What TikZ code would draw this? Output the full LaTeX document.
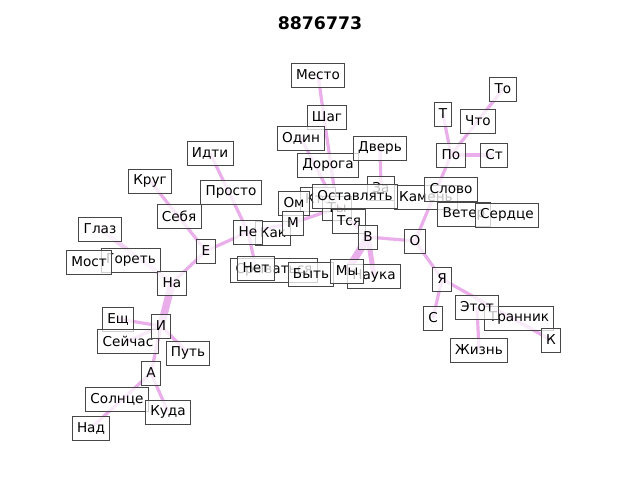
\documentclass[tikz,border=0pt]{standalone}
\usepackage{fontspec}
\setmainfont{DejaVu Sans}
\usetikzlibrary{backgrounds}

\definecolor{linkpink}{RGB}{234,174,234}
\newcommand{\wordfont}{\fontsize{10.2}{12}\selectfont}

\tikzset{
  word/.style={draw=black!72, line width=0.7pt, fill=white, fill opacity=0.75, text opacity=1,
    inner sep=3.6pt, minimum height=18pt, font=\wordfont},
  link/.style={draw=linkpink, line width=2.4pt},
  heavylink/.style={draw=linkpink, line width=5.6pt},
  faintlink/.style={draw=linkpink!55, line width=3.2pt}
}

\begin{document}
\begin{tikzpicture}[x=0.75pt,y=0.75pt,yscale=-1,xscale=1]
\useasboundingbox (0,0) rectangle (640,480);

% title
\node (title) at (320,23) {\fontsize{13}{15}\selectfont\bfseries 8876773};

% words, hidden ones first
\node[word] (kto) at (318,199) {Кто};
\node[word] (za) at (381,188) {За};
\node[word] (ty) at (337,208) {Ты};
\node[word] (tsya) at (349,221) {Тся};
\node[word] (goret) at (131,260) {Гореть};
\node[word] (sryv) at (274,270) {Срываться};
\node[word] (nauka) at (374,276) {Наука};
\node[word] (kamen) at (426,197) {Камень};
\node[word] (veter) at (464,214) {Ветер};
\node[word] (trannik) at (519,318) {Транник};
\node[word] (kak) at (273,233) {Как};

\node[word] (mesto) at (318,75) {Место};
\node[word] (shag) at (327,117) {Шаг};
\node[word] (odin) at (301,138) {Один};
\node[word] (doroga) at (328,165) {Дорога};
\node[word] (dver) at (380,148) {Дверь};
\node[word] (idti) at (210,153) {Идти};
\node[word] (krug) at (150,181) {Круг};
\node[word] (prosto) at (231,192) {Просто};
\node[word] (sebya) at (179,216) {Себя};
\node[word] (glaz) at (100,229) {Глаз};
\node[word] (most) at (89,262) {Мост};
\node[word] (e) at (206,251) {Е};
\node[word] (na) at (172,283) {На};
\node[word] (ne) at (248,232) {Не};
\node[word] (om) at (294,203) {Ом};
\node[word] (m) at (293,223) {М};
\node[word] (ostavlyat) at (355,196) {Оставлять};
\node[word] (v) at (368,237) {В};
\node[word] (slovo) at (451,189) {Слово};
\node[word] (serdtse) at (507,215) {Сердце};
\node[word] (o) at (415,241) {О};
\node[word] (po) at (451,155) {По};
\node[word] (t) at (443,114) {Т};
\node[word] (chto) at (478,121) {Что};
\node[word] (st) at (494,155) {Ст};
\node[word] (to) at (503,89) {То};
\node[word] (net) at (256,268) {Нет};
\node[word] (byt) at (311,274) {Быть};
\node[word] (my) at (347,271) {Мы};
\node[word] (ya) at (442,279) {Я};
\node[word] (s) at (433,318) {С};
\node[word] (etot) at (477,307) {Этот};
\node[word] (zhizn) at (479,350) {Жизнь};
\node[word] (k) at (551,340) {К};
\node[word] (esch) at (118,319) {Ещ};
\node[word] (sejchas) at (128,341) {Сейчас};
\node[word] (i) at (161,326) {И};
\node[word] (put) at (188,353) {Путь};
\node[word] (a) at (151,373) {А};
\node[word] (solntse) at (117,399) {Солнце};
\node[word] (kuda) at (168,412) {Куда};
\node[word] (nad) at (91,428) {Над};

% links behind the words
\begin{scope}[on background layer]
\draw[link] (mesto.center) -- (ty.center);
\draw[link] (odin.center) -- (ty.center);
\draw[link] (dver.center) -- (za.center);
\draw[link] (m.center) -- (ty.center);
\draw[link] (ne.center) -- (m.center);
\draw[link] (e.center) -- (ne.center);
\draw[link] (idti.center) -- (ne.center);
\draw[link] (ne.center) -- (net.center);
\draw[link] (krug.center) -- (e.center);
\draw[link] (e.center) -- (na.center);
\draw[faintlink] (glaz.center) -- (na.center);
\draw[heavylink] (na.center) -- (i.center);
\draw[link] (esch.center) -- (i.center);
\draw[link] (sejchas.center) -- (i.center);
\draw[link] (i.center) -- (put.center);
\draw[link] (i.center) -- (a.center);
\draw[link] (a.center) -- (nad.center);
\draw[link] (a.center) -- (kuda.center);
\draw[link] (ty.center) -- (v.center);
\draw[heavylink] (v.center) -- (my.center);
\draw[link, line width=3.8pt] (v.center) -- (nauka.center);
\draw[link] (v.center) -- (o.center);
\draw[link] (o.center) -- (ya.center);
\draw[link] (o.center) -- (po.center);
\draw[link] (po.center) -- (t.center);
\draw[link] (po.center) -- (st.center);
\draw[link] (po.center) -- (to.center);
\draw[link] (ya.center) -- (s.center);
\draw[link] (ya.center) -- (k.center);
\draw[link] (etot.center) -- (zhizn.center);
\end{scope}

\end{tikzpicture}
\end{document}
